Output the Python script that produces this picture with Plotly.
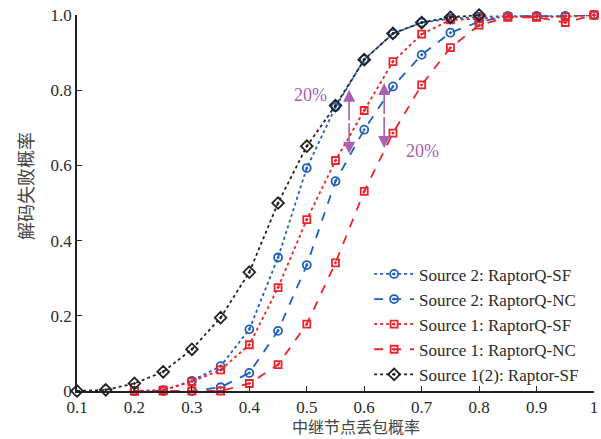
import plotly.graph_objects as go

# Relay-node packet loss probability
p_src2 = [0.2, 0.25, 0.3, 0.35, 0.4, 0.45, 0.5, 0.55, 0.6, 0.65, 0.7, 0.75, 0.8, 0.85, 0.9, 0.95, 1.0]
p_raptor = [0.1, 0.15, 0.2, 0.25, 0.3, 0.35, 0.4, 0.45, 0.5, 0.55, 0.6, 0.65, 0.7, 0.75, 0.8]

# Decoding failure probability for each scheme
src2_rq_sf = [0.0, 0.002, 0.027, 0.066, 0.164, 0.355, 0.593, 0.755, 0.882, 0.95, 0.98, 0.99, 0.995, 0.997, 0.997, 0.997, 1.0]
src2_rq_nc = [0.0, 0.0, 0.0, 0.01, 0.048, 0.16, 0.335, 0.558, 0.695, 0.81, 0.894, 0.953, 0.982, 0.997, 0.997, 0.997, 1.0]
src1_rq_sf = [0.0, 0.002, 0.025, 0.056, 0.123, 0.275, 0.456, 0.613, 0.746, 0.876, 0.949, 0.987, 0.99, 0.995, 0.995, 0.995, 1.0]
src1_rq_nc = [0.0, 0.0, 0.0, 0.0, 0.02, 0.07, 0.178, 0.341, 0.531, 0.686, 0.814, 0.913, 0.973, 0.994, 0.994, 0.98, 1.0]
raptor_sf = [0.0, 0.003, 0.02, 0.051, 0.111, 0.195, 0.316, 0.50, 0.651, 0.759, 0.881, 0.951, 0.98, 0.994, 1.0]

x_ticks = [0.1, 0.2, 0.3, 0.4, 0.5, 0.6, 0.7, 0.8, 0.9, 1.0]
x_tick_text = ["0.1", "0.2", "0.3", "0.4", "0.5", "0.6", "0.7", "0.8", "0.9", "1"]
y_ticks = [0, 0.2, 0.4, 0.6, 0.8, 1.0]
y_tick_text = ["0", "0.2", "0.4", "0.6", "0.8", "1.0"]

x_title = "中继节点丢包概率"
y_title = "解码失败概率"

BLUE = "#1f5fbf"
RED = "#ee2229"
BLACK = "#222222"
PURPLE = "#a860b0"
TEXT = "#2a2a2a"

series = [
    ("Source 2: RaptorQ-SF", p_src2, src2_rq_sf, BLUE, "dot", "circle-open-dot", 8),
    ("Source 2: RaptorQ-NC", p_src2, src2_rq_nc, BLUE, "dash", "circle-open-dot", 8),
    ("Source 1: RaptorQ-SF", p_src2, src1_rq_sf, RED, "dot", "square-open-dot", 7),
    ("Source 1: RaptorQ-NC", p_src2, src1_rq_nc, RED, "dash", "square-open-dot", 7),
    ("Source 1(2): Raptor-SF", p_raptor, raptor_sf, BLACK, "dot", "diamond-open-dot", 9),
]

fig = go.Figure()
for name, xs, ys, color, dash, symbol, size in series:
    fig.add_trace(go.Scatter(
        x=xs, y=ys, name=name, mode="lines+markers",
        line=dict(color=color, width=1.8, dash=dash),
        marker=dict(symbol=symbol, size=size, color=color, line=dict(color=color, width=1.8)),
        cliponaxis=False,
    ))

# 20% gap markers (double-headed arrows)
arrows = [(0.5737, 0.801, 0.631), (0.6347, 0.819, 0.646)]
for ax_x, y_top, y_bot in arrows:
    for y_tip in (y_top, y_bot):
        fig.add_annotation(
            x=ax_x, y=y_tip, ax=ax_x, ay=(y_top + y_bot) / 2,
            xref="x", yref="y", axref="x", ayref="y",
            showarrow=True, arrowhead=2, arrowsize=1.5, arrowwidth=1.6,
            arrowcolor=PURPLE, text="",
        )

for tx, ty in [(0.506, 0.788), (0.701, 0.637)]:
    fig.add_annotation(
        x=tx, y=ty, xref="x", yref="y", text="20%", showarrow=False,
        font=dict(family="Liberation Serif", size=18, color=PURPLE),
    )

# Axis titles placed as paper-anchored text
fig.add_annotation(x=0.54, y=-0.128, xref="paper", yref="paper", text=x_title,
                   showarrow=False, xanchor="center", yanchor="bottom", borderpad=0,
                   font=dict(family="Noto Sans CJK SC", size=16, color="#444444"))
fig.add_annotation(x=-0.1006, y=0.545, xref="paper", yref="paper", text=y_title,
                   showarrow=False, xanchor="center", yanchor="middle", textangle=-90,
                   font=dict(family="Noto Sans CJK SC", size=18, color="#444444"))

axis_common = dict(
    showgrid=False, zeroline=False, showline=True, linecolor="#222222", linewidth=1.5,
    ticks="inside", ticklen=5, tickcolor="#222222", tickwidth=1.2,
    tickfont=dict(family="Liberation Serif", size=17, color=TEXT), automargin=False,
)

fig.update_layout(
    width=601, height=439,
    margin=dict(l=77, r=7, t=15, b=48),
    paper_bgcolor="white", plot_bgcolor="white",
    font=dict(family="Liberation Serif", size=17, color=TEXT),
    legend=dict(
        x=0.565, y=0.358, xanchor="left", yanchor="top",
        bgcolor="rgba(255,255,255,0)", font=dict(family="Liberation Serif", size=17, color=TEXT),
        tracegroupgap=0, itemwidth=40,
    ),
    xaxis=dict(range=[0.1, 1.0], tickvals=x_ticks, ticktext=x_tick_text, **axis_common),
    yaxis=dict(range=[0, 1.0], tickvals=y_ticks, ticktext=y_tick_text, **axis_common),
)

fig.write_html("out.html")
